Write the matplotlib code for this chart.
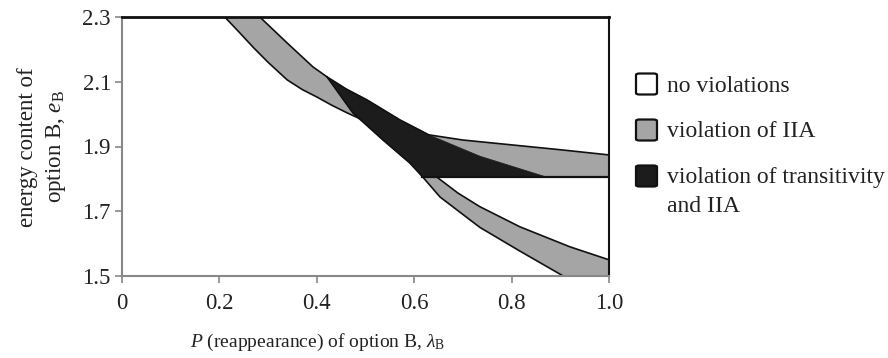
import matplotlib
matplotlib.use("Agg")
import matplotlib.pyplot as plt
from matplotlib.patches import FancyBboxPatch

plt.rcParams['font.family'] = ['Liberation Serif', 'DejaVu Serif']
plt.rcParams['mathtext.fontset'] = 'custom'
plt.rcParams['mathtext.rm'] = 'Liberation Serif'
plt.rcParams['mathtext.it'] = 'Liberation Serif:italic'
plt.rcParams['mathtext.bf'] = 'Liberation Serif:bold'

# ---- data: region boundaries (lambda_B, e_B) ----
# upper edge of the upper IIA band
U1_x = [0.283, 0.339, 0.392, 0.421, 0.460, 0.503, 0.571, 0.630, 0.700, 0.800, 0.900, 1.000]
U1_y = [2.300, 2.220, 2.146, 2.115, 2.078, 2.044, 1.982, 1.936, 1.920, 1.905, 1.890, 1.874]
# lower edge of the upper IIA band
L1_x = [0.211, 0.240, 0.269, 0.300, 0.339, 0.370, 0.400, 0.430, 0.462, 0.503]
L1_y = [2.300, 2.254, 2.207, 2.160, 2.106, 2.076, 2.053, 2.028, 2.004, 1.976]
# lower edge of the lower IIA band (steep curve)
L2_x = [0.421, 0.474, 0.536, 0.591, 0.618, 0.653, 0.735, 0.817, 0.906]
L2_y = [2.115, 2.004, 1.920, 1.849, 1.805, 1.744, 1.650, 1.577, 1.500]
# upper edge of the lower IIA band
M2_x = [0.647, 0.690, 0.735, 0.817, 0.920, 1.000]
M2_y = [1.805, 1.756, 1.714, 1.652, 1.590, 1.550]
# horizontal threshold
H_y = 1.805
H_x0, H_x1 = 0.615, 1.0
# transitivity + IIA region
BLK_x = [0.421, 0.460, 0.503, 0.571, 0.630, 0.735, 0.873, 0.618, 0.591, 0.536, 0.474]
BLK_y = [2.115, 2.078, 2.044, 1.982, 1.936, 1.870, 1.805, 1.805, 1.849, 1.920, 2.004]

x_ticks = [0, 0.2, 0.4, 0.6, 0.8, 1.0]
x_labels = ['0', '0.2', '0.4', '0.6', '0.8', '1.0']
y_ticks = [1.5, 1.7, 1.9, 2.1, 2.3]
y_labels = ['1.5', '1.7', '1.9', '2.1', '2.3']

legend_labels = ['no violations', 'violation of IIA', 'violation of transitivity']
legend_extra = 'and IIA'
GREY = '#a5a5a5'
BLACK = '#1c1c1c'
legend_colors = ['white', GREY, BLACK]

TXT = '#222222'
fig = plt.figure(figsize=(8.88, 3.58), dpi=100)
ax = fig.add_axes([122/888, 1-276/358, (609-122)/888, (276-17)/358])

# grey band A (upper)
gA_x = U1_x + [1.0, 0.63, 0.56] + L1_x[::-1]
gA_y = U1_y + [H_y, H_y, 1.93] + L1_y[::-1]
ax.fill(gA_x, gA_y, color=GREY, lw=0, zorder=1)
# grey band B (lower)
gB_x = L2_x + [1.0, 1.0] + M2_x[::-1]
gB_y = L2_y + [1.5, M2_y[-1]] + M2_y[::-1]
ax.fill(gB_x, gB_y, color=GREY, lw=0, zorder=1)

ax.plot(L1_x, L1_y, color='#111111', lw=1.2, zorder=2)
ax.plot(M2_x, M2_y, color='#111111', lw=1.2, zorder=2)

ax.fill(BLK_x, BLK_y, color=BLACK, lw=0.5, ec=BLACK, zorder=3)

ax.plot(U1_x, U1_y, color='#111111', lw=1.2, zorder=4)
ax.plot(L2_x, L2_y, color='#111111', lw=1.2, zorder=4)
ax.plot([H_x0, H_x1], [H_y, H_y], color='#111111', lw=1.6, zorder=4)

ax.set_xlim(0, 1.0)
ax.set_ylim(1.5, 2.3)
ax.set_xticks(x_ticks)
ax.set_xticklabels(x_labels)
ax.set_yticks(y_ticks)
ax.set_yticklabels(y_labels)
ax.tick_params(axis='x', direction='out', length=5, width=1.2, color='#888888',
               labelsize=16.5, pad=7, labelcolor=TXT)
ax.tick_params(axis='y', direction='out', length=5, width=1.2, color='#888888',
               labelsize=16.5, pad=3, labelcolor=TXT)
for s in ['left', 'bottom']:
    ax.spines[s].set_color('#888888')
    ax.spines[s].set_linewidth(1.5)
ax.spines['top'].set_color('#111111')
ax.spines['top'].set_linewidth(2.0)
ax.spines['right'].set_color('#111111')
ax.spines['right'].set_linewidth(1.5)
for s in ax.spines.values():
    s.set_zorder(5)

# axis labels
fig.text(317/888, 1-342/358, r'$P$ (reappearance) of option B, $\lambda_{\mathrm{B}}$',
         ha='center', va='center', fontsize=14, color=TXT)
fig.text(27/888, 1-147/358, 'energy content of', rotation=90,
         ha='center', va='center', fontsize=16.5, color=TXT)
fig.text(56/888, 1-147/358, r'option B, $e_{\mathrm{B}}$', rotation=90,
         ha='center', va='center', fontsize=16.5, color=TXT)

# legend
box_centers = [84, 130, 176]
baselines = [92, 137, 183]
for lab, col, yc, yb in zip(legend_labels, legend_colors, box_centers, baselines):
    w, h = 21/888, 21/358
    p = FancyBboxPatch((636/888, 1-(yc+10.5)/358), w, h,
                       boxstyle='round,pad=0,rounding_size=0.004',
                       transform=fig.transFigure, facecolor=col,
                       edgecolor='#111111', lw=1.6)
    fig.patches.append(p)
    fig.text(667/888, 1-yb/358, lab, ha='left', va='baseline',
             fontsize=17, color=TXT)
fig.text(667/888, 1-212/358, legend_extra, ha='left', va='baseline',
         fontsize=17, color=TXT)

fig.savefig('out.png', dpi=100)
